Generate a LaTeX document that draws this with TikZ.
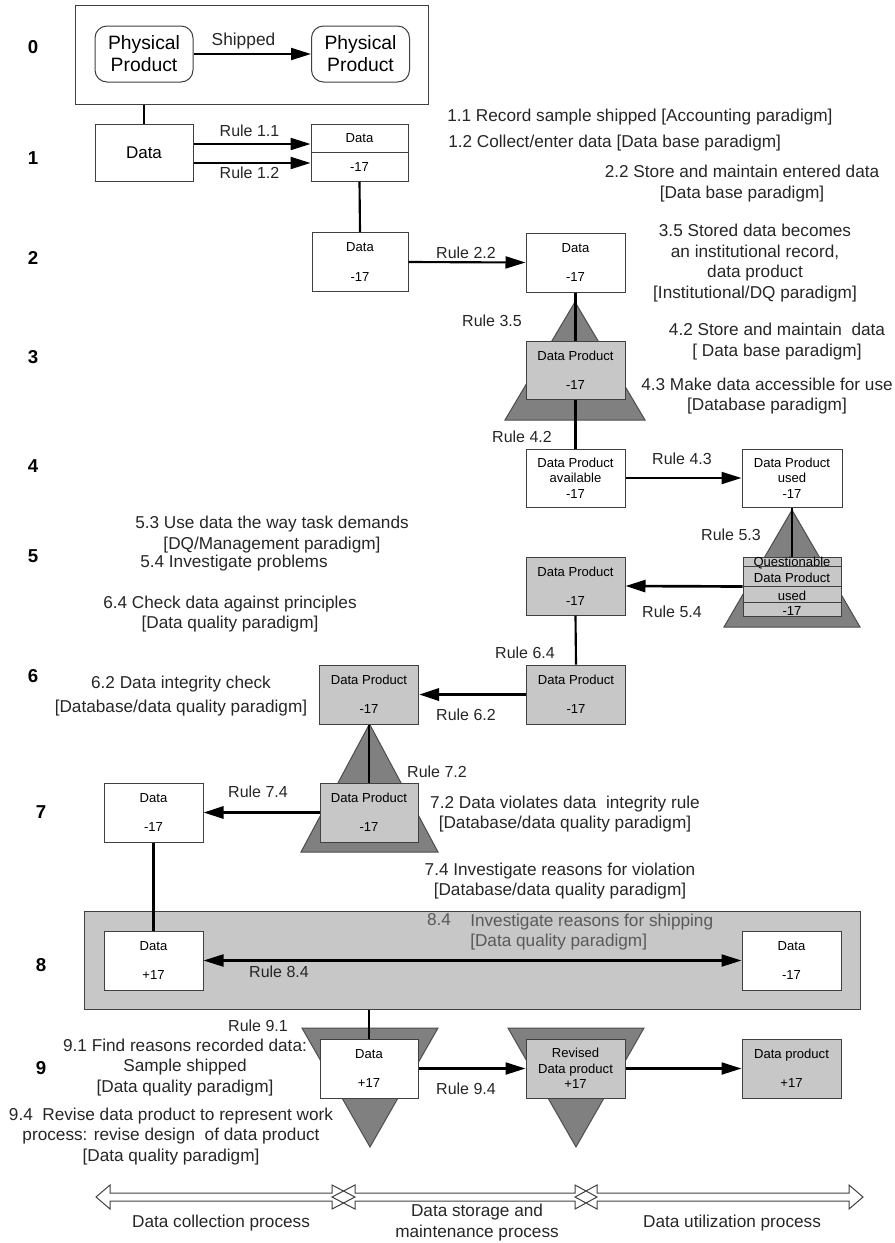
\documentclass[tikz,border=0pt]{standalone}
\usepackage{fontspec}
\setmainfont{Liberation Sans}
\usetikzlibrary{arrows.meta}

\begin{document}
\begin{tikzpicture}[x=0.75pt,y=0.75pt,yscale=-1,xscale=1,
  box/.style={draw=black!75, line width=0.75pt, fill=white, inner sep=0pt, align=center, minimum width=74.25pt, minimum height=44.25pt, font=\fontsize{9.8}{11.8}\selectfont},
  greybox/.style={box, fill=black!22},
  physbox/.style={box, rounded corners=9pt, minimum width=73.5pt, minimum height=42pt, font=\fontsize{14.5}{16.5}\selectfont},
  frame/.style={draw=black!75, line width=0.75pt, inner sep=0pt},
  tri/.style={draw=black!70, line width=0.75pt, fill=black!50},
  conn/.style={line width=1.6pt},
  arr/.style={conn, -{Triangle[length=15pt,width=9pt]}},
  rowlbl/.style={font=\fontsize{14}{16}\selectfont\bfseries, inner sep=0pt},
  rulelbl/.style={font=\fontsize{12}{14}\selectfont, text=black!85, inner sep=0pt},
  note/.style={font=\fontsize{12.9}{15.6}\selectfont, text=black!85, align=center, inner sep=0pt},
  procarrow/.style={draw=black!75, line width=0.75pt}
]
\useasboundingbox (0,0) rectangle (894,1243);

% Frames
\draw (251.5,54.5) node [frame, minimum width=264.75pt, minimum height=74.25pt] (f0) {};
\draw (472,960) node [frame, fill=black!22, minimum width=582pt, minimum height=73.5pt] (f8) {};

%Shape: Triangle
\draw [tri] (575,302) -- (645,420) -- (505,420) -- cycle;
\draw [tri] (792,510) -- (860,627) -- (724,627) -- cycle;
\draw [tri] (369.5,724) -- (438,852) -- (301,852) -- cycle;
\draw [tri] (302,1028) -- (438,1028) -- (370,1147) -- cycle;
\draw [tri] (508,1028) -- (644,1028) -- (576,1147) -- cycle;

% Row numbers
\draw (33,47) node [rowlbl] (n0) {0};
\draw (33,158) node [rowlbl] (n1) {1};
\draw (33,258) node [rowlbl] (n2) {2};
\draw (33,357) node [rowlbl] (n3) {3};
\draw (33,466) node [rowlbl] (n4) {4};
\draw (33,556) node [rowlbl] (n5) {5};
\draw (33,676) node [rowlbl] (n6) {6};
\draw (41,812) node [rowlbl] (n7) {7};
\draw (41,965) node [rowlbl] (n8) {8};
\draw (41,1068) node [rowlbl] (n9) {9};

% Boxes
\draw (144,54) node [physbox] (pp1) {Physical\\Product};
\draw (360.5,54) node [physbox] (pp2) {Physical\\Product};
\draw (144,152.5) node [box, minimum width=73.5pt, minimum height=42.75pt, font=\fontsize{12.75}{15}\selectfont] (d1a) {Data};
\draw (359.5,138) node [box, minimum width=72.75pt, minimum height=21pt] (d1top) {Data};
\draw (359.5,166.5) node [box, minimum width=72.75pt, minimum height=21.75pt] (d1bot) {-17};
\draw (360,262) node [box, minimum width=72pt] (d2a) {Data\\[10pt]-17};
\draw (575.5,262.5) node [box] (d2b) {Data\\[10pt]-17};
\draw (575.5,370) node [greybox, minimum height=43.5pt] (dp3) {Data Product\\[10pt]-17};
\draw (575.5,478) node [box, minimum height=43.5pt] (dp4a) {Data Product\\available\\-17};
\draw (792,478) node [box, minimum width=75pt, minimum height=43.5pt] (dp4b) {Data Product\\used\\-17};
\draw (792,586.5) node [greybox, minimum width=73.5pt] (qst) {Questionable\\Data Product\\[1.5pt]used\\-17};
\draw (575.5,586) node [greybox, minimum height=43.5pt] (dp5) {Data Product\\[10pt]-17};
\draw (576,694.5) node [greybox] (dp6r) {Data Product\\[10pt]-17};
\draw (369,694.5) node [greybox] (dp6l) {Data Product\\[10pt]-17};
\draw (369,812.5) node [greybox, minimum width=73.5pt] (dp7) {Data Product\\[10pt]-17};
\draw (153.5,812.5) node [box] (d7) {Data\\[10pt]-17};
\draw (153.5,960.5) node [box] (d8a) {Data\\[10pt]+17};
\draw (791.5,960.5) node [box] (d8b) {Data\\[10pt]-17};
\draw (369,1068.5) node [box, minimum width=73.5pt] (d9a) {Data\\[10pt]+17};
\draw (575.5,1068.5) node [greybox] (r9) {Revised\\Data product\\+17};
\draw (791.5,1068.5) node [greybox] (dp9) {Data product\\[10pt]+17};

% Questionable rows
\draw [draw=black!75, line width=0.75pt] (qst.west |- 0,566) -- (qst.east |- 0,566);
\draw [draw=black!75, line width=0.75pt] (qst.west |- 0,586) -- (qst.east |- 0,586);
\draw [draw=black!75, line width=0.75pt] (qst.west |- 0,602) -- (qst.east |- 0,602);

%Straight Lines
\draw [conn] (d1a.north |- f0.south) -- (d1a.north);
\draw [arr] (pp1.east) -- (pp2.west);
\draw [arr] (d1a.east |- 0,144) -- (d1top.west |- 0,144);
\draw [arr] (d1a.east |- 0,163) -- (d1bot.west |- 0,163);
\draw [conn] (d1bot.south) -- (d2a.north);
\draw [arr] (d2a.east) -- (d2b.west);
\draw [conn] (d2b.south) -- (dp3.north);
\draw [conn] (dp3.south) -- (dp4a.north);
\draw [arr] (dp4a.east) -- (dp4b.west);
\draw [conn] (dp4b.south) -- (qst.north);
\draw [arr, line width=2pt] (qst.west) -- (dp5.east);
\draw [conn] (dp5.south) -- (dp6r.north);
\draw [arr, line width=2.4pt] (dp6r.west) -- (dp6l.east);
\draw [conn] (dp6l.south) -- (dp7.north);
\draw [arr, line width=2.2pt] (dp7.west) -- (d7.east);
\draw [conn] (d7.south) -- (d8a.north);
\draw [conn, {Triangle[length=15pt,width=9pt]}-{Triangle[length=15pt,width=9pt]}] (d8a.east) -- (d8b.west);
\draw [conn] (d9a.north |- f8.south) -- (d9a.north);
\draw [arr] (d9a.east) -- (r9.west);
\draw [arr] (r9.east) -- (dp9.west);

% Rule labels
\draw (243.5,41.5) node [rulelbl, font=\fontsize{13}{15}\selectfont] (lship) {Shipped};
\draw (249.5,131) node [rulelbl] (l11) {Rule 1.1};
\draw (249.5,173) node [rulelbl] (l12) {Rule 1.2};
\draw (466,253) node [rulelbl] (l22) {Rule 2.2};
\draw (492,321) node [rulelbl] (l35) {Rule 3.5};
\draw (522,437) node [rulelbl] (l42) {Rule 4.2};
\draw (682,459) node [rulelbl] (l43) {Rule 4.3};
\draw (731,535) node [rulelbl] (l53) {Rule 5.3};
\draw (672,612) node [rulelbl] (l54) {Rule 5.4};
\draw (525,653) node [rulelbl] (l64) {Rule 6.4};
\draw (466,715) node [rulelbl] (l62) {Rule 6.2};
\draw (437,772) node [rulelbl] (l72) {Rule 7.2};
\draw (258,792) node [rulelbl] (l74) {Rule 7.4};
\draw (279,972) node [rulelbl] (l84) {Rule 8.4};
\draw (258,1026) node [rulelbl] (l91) {Rule 9.1};
\draw (466,1089) node [rulelbl] (l94) {Rule 9.4};

% Text Node
\draw (447,117) node [note, anchor=west] (t11) {1.1 Record sample shipped [Accounting paradigm]};
\draw (448,143) node [note, anchor=west] (t12) {1.2 Collect/enter data [Data base paradigm]};
\draw (742,183.5) node [note] (t22) {2.2 Store and maintain entered data\\{}[Data base paradigm]};
\draw (755,263) node [note] (t35) {3.5 Stored data becomes\\an institutional record,\\data product\\{}[Institutional/DQ paradigm]};
\draw (777,341.5) node [note] (t42) {4.2 Store and maintain \ data\\{}[ Data base paradigm]};
\draw (767,396) node [note] (t43) {4.3 Make data accessible for use\\{}[Database paradigm]};
\draw (272,534.5) node [note] (t53) {5.3 Use data the way task demands\\{}[DQ/Management paradigm]};
\draw (140,563) node [note, anchor=west] (t54) {5.4 Investigate problems};
\draw (230,614) node [note] (t64) {6.4 Check data against principles\\{}[Data quality paradigm]};
\draw (181,696) node [note] (t62) {6.2 Data integrity check\\[2pt][Database/data quality paradigm]};
\draw (565,814) node [note] (t72) {7.2 Data violates data \ integrity rule\\{}[Database/data quality paradigm]};
\draw (560,881) node [note] (t74) {7.4 Investigate reasons for violation\\{}[Database/data quality paradigm]};
\draw (439,920) node [note, text=black!65] (t84n) {8.4};
\draw (470,932) node [note, text=black!65, anchor=west, align=left] (t84) {Investigate reasons for shipping\\{}[Data quality paradigm]};
\draw (185,1067.5) node [note] (t91) {9.1 Find reasons recorded data:\\Sample shipped\\{}[Data quality paradigm]};
\draw (171,1136.5) node [note] (t94) {9.4 \ Revise data product to represent work\\process: revise design \ of data product\\{}[Data quality paradigm]};

% Process arrows
\draw [procarrow] (96,1197) -- (110,1185) -- (110,1193) -- (332,1193) -- (332,1185) -- (355,1197) -- (332,1209) -- (332,1201) -- (110,1201) -- (110,1209) -- cycle;
\draw [procarrow] (332,1197) -- (355,1185) -- (355,1193) -- (575,1193) -- (575,1185) -- (597,1197) -- (575,1209) -- (575,1201) -- (355,1201) -- (355,1209) -- cycle;
\draw [procarrow] (575,1197) -- (597,1185) -- (597,1193) -- (849,1193) -- (849,1185) -- (863,1197) -- (849,1209) -- (849,1201) -- (597,1201) -- (597,1209) -- cycle;
\draw (221,1223) node [note] (p1) {Data collection process};
\draw (477,1222.5) node [note] (p2) {Data storage and\\maintenance process};
\draw (732,1223) node [note] (p3) {Data utilization process};

\end{tikzpicture}
\end{document}
